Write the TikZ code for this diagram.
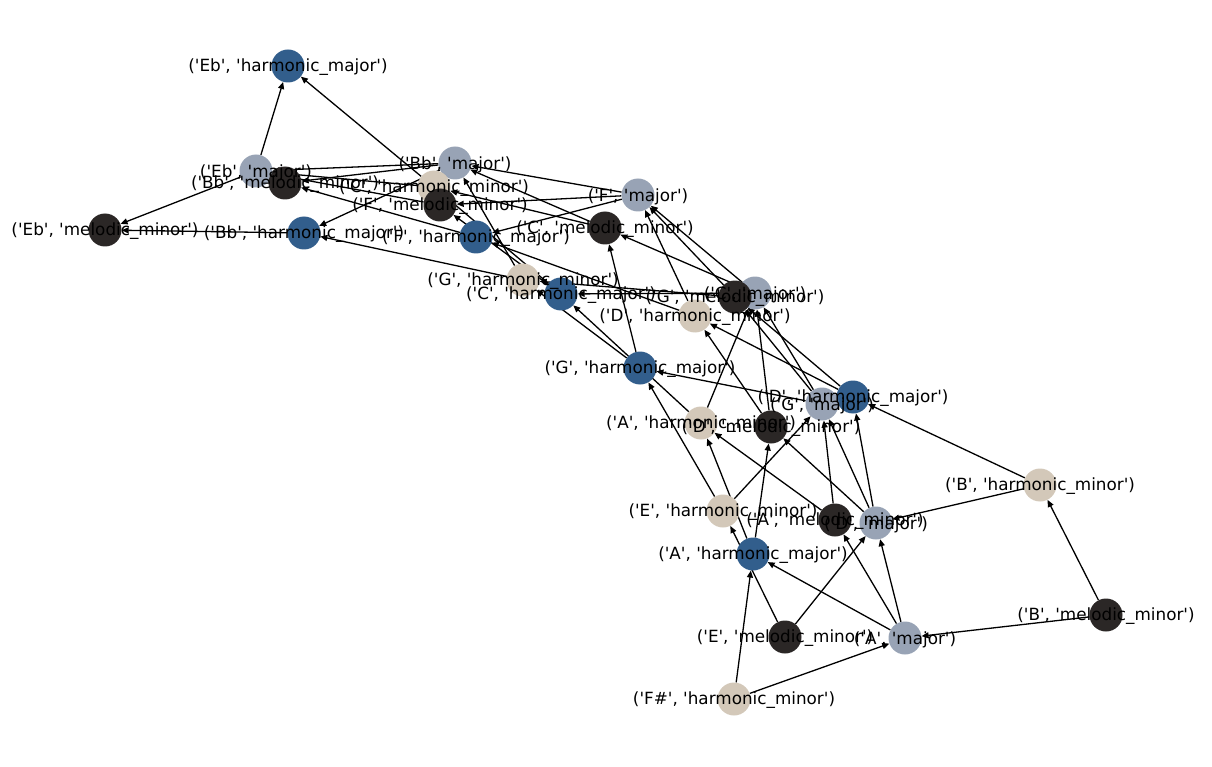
\documentclass[tikz,border=0pt]{standalone}
\usepackage{fontspec}
\newfontfamily\lblfont{DejaVu Sans}[Ligatures=TeXOff]
\usetikzlibrary{arrows.meta,backgrounds}
\definecolor{cblue}{RGB}{50,94,140}
\definecolor{cgray}{RGB}{152,163,181}
\definecolor{cbeige}{RGB}{211,200,185}
\definecolor{cblack}{RGB}{43,39,38}
\begin{document}
\begin{tikzpicture}[x=1pt,y=-1pt,
  vtx/.style={circle,minimum size=33pt,inner sep=0pt,draw=none},
  hmaj/.style={vtx,fill=cblue},
  maj/.style={vtx,fill=cgray},
  hm/.style={vtx,fill=cbeige},
  mm/.style={vtx,fill=cblack},
  lbl/.style={font=\lblfont\fontsize{16.8}{20}\selectfont,inner sep=0pt,text=black,yshift=-1.5pt},
  edge/.style={-{Triangle[length=7pt,width=6pt]},line width=1.3pt,draw=black}]
\useasboundingbox (0,0) rectangle (1212,767);
\foreach \n/\s/\x/\y in {
  Ebhmaj/hmaj/288/66, Ebmaj/maj/256/171, Bbmm/mm/285/183, Ebmm/mm/105/230,
  Bbhmaj/hmaj/304/233, Bbmaj/maj/455/163, Chm/hm/434/187, Fmm/mm/440/205,
  Fhmaj/hmaj/476/237, Fmaj/maj/638/195, Cmm/mm/605/228, Ghm/hm/523/280,
  Chmaj/hmaj/561/294, Cmaj/maj/755/293, Gmm/mm/735/297, Dhm/hm/695/316,
  Ghmaj/hmaj/640/368, Dhmaj/hmaj/853/397, Gmaj/maj/822/404, Ahm/hm/701/423,
  Dmm/mm/771/427, Bhm/hm/1040/485, Ehm/hm/723/511, Amm/mm/835/520,
  Dmaj/maj/876/523, Ahmaj/hmaj/753/554, Emm/mm/785/637, Amaj/maj/905/638,
  Bmm/mm/1106/615, Fshm/hm/734/699}
  \node[\s] (\n) at (\x,\y) {};
\begin{pgfonlayer}{background}
\foreach \a/\b in {
  Bbmaj/Ebmaj, Fmaj/Bbmaj, Cmaj/Fmaj, Gmaj/Cmaj, Dmaj/Gmaj, Amaj/Dmaj,
  Ebmaj/Ebhmaj, Bbmaj/Bbhmaj, Fmaj/Fhmaj, Cmaj/Chmaj, Gmaj/Ghmaj, Dmaj/Dhmaj, Amaj/Ahmaj,
  Ebmaj/Ebmm, Bbmaj/Bbmm, Fmaj/Fmm, Cmaj/Cmm, Gmaj/Gmm, Dmaj/Dmm, Amaj/Amm,
  Chm/Ebmaj, Ghm/Bbmaj, Dhm/Fmaj, Ahm/Cmaj, Ehm/Gmaj, Bhm/Dmaj, Fshm/Amaj,
  Fmm/Ebmaj, Cmm/Bbmaj, Gmm/Fmaj, Dmm/Cmaj, Amm/Gmaj, Emm/Dmaj, Bmm/Amaj,
  Chmaj/Chm, Ghmaj/Ghm, Dhmaj/Dhm, Ahmaj/Ahm,
  Cmm/Chm, Gmm/Ghm, Dmm/Dhm, Amm/Ahm, Emm/Ehm, Bmm/Bhm,
  Chm/Ebhmaj, Ghm/Bbhmaj, Dhm/Fhmaj, Ahm/Chmaj, Ehm/Ghmaj, Bhm/Dhmaj, Fshm/Ahmaj,
  Bbhmaj/Ebmm, Fhmaj/Bbmm, Chmaj/Fmm, Ghmaj/Cmm, Dhmaj/Gmm, Ahmaj/Dmm}
  \draw[edge] (\a) -- (\b);
\end{pgfonlayer}
\foreach \n/\k/\t in {
  Ebhmaj/Eb/harmonic\_major, Ebmaj/Eb/major, Bbmm/Bb/melodic\_minor, Ebmm/Eb/melodic\_minor,
  Bbhmaj/Bb/harmonic\_major, Bbmaj/Bb/major, Chm/C/harmonic\_minor, Fmm/F/melodic\_minor,
  Fhmaj/F/harmonic\_major, Fmaj/F/major, Cmm/C/melodic\_minor, Ghm/G/harmonic\_minor,
  Chmaj/C/harmonic\_major, Cmaj/C/major, Gmm/G/melodic\_minor, Dhm/D/harmonic\_minor,
  Ghmaj/G/harmonic\_major, Dhmaj/D/harmonic\_major, Gmaj/G/major, Ahm/A/harmonic\_minor,
  Dmm/D/melodic\_minor, Bhm/B/harmonic\_minor, Ehm/E/harmonic\_minor, Amm/A/melodic\_minor,
  Dmaj/D/major, Ahmaj/A/harmonic\_major, Emm/E/melodic\_minor, Amaj/A/major,
  Bmm/B/melodic\_minor, Fshm/F\#/harmonic\_minor}
  \node[lbl] (\n-l) at (\n) {('\k', '\t')};
\end{tikzpicture}
\end{document}
